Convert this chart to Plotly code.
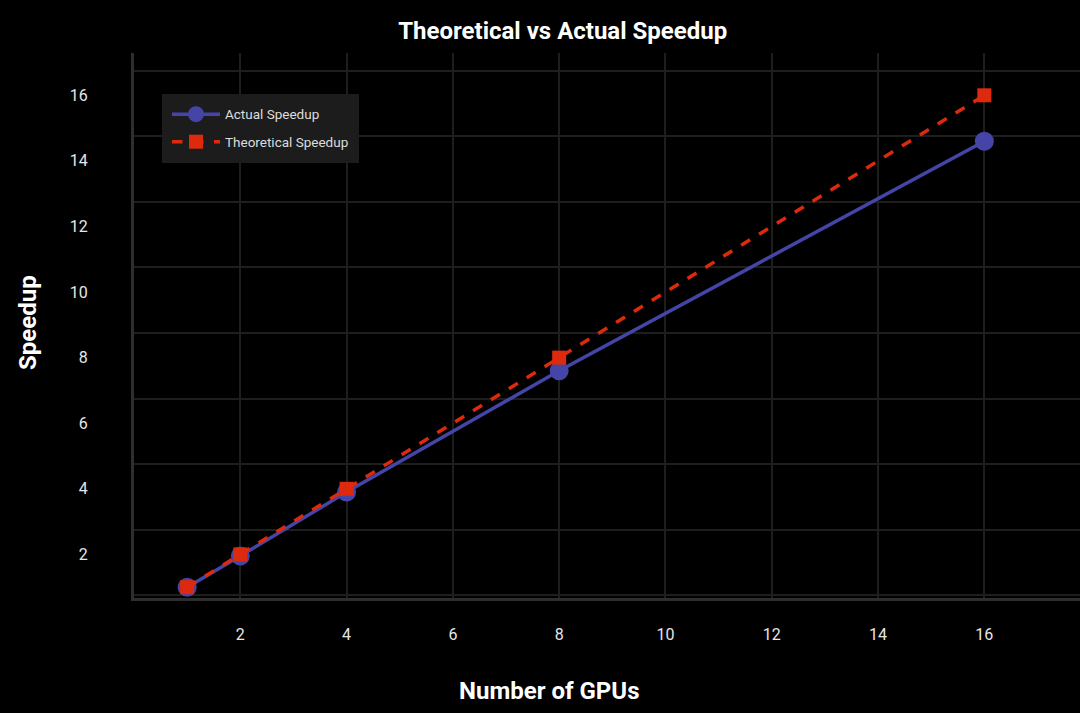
import plotly.graph_objects as go

gpus = [1, 2, 4, 8, 16]
actual_speedup = [1.0, 1.95, 3.9, 7.6, 14.6]
theoretical_speedup = [1, 2, 4, 8, 16]
x_ticks = [2, 4, 6, 8, 10, 12, 14, 16]
y_ticks = [2, 4, 6, 8, 10, 12, 14, 16]

BLUE = "#4545a8"
RED = "#dd2a0c"
GRID = "#1e1e1e"
AXIS = "#2e2e2e"
TXT = "#e6e6e6"
FONT = "Roboto"

fig = go.Figure()
fig.add_trace(go.Scatter(
    x=gpus, y=actual_speedup, mode="lines+markers", name="Actual Speedup",
    line=dict(color=BLUE, width=3.5),
    marker=dict(symbol="circle", size=19, color=BLUE),
    legendgroup="a",
))
fig.add_trace(go.Scatter(
    x=gpus, y=theoretical_speedup, mode="lines+markers", name="Theoretical Speedup",
    line=dict(color=RED, width=3.5, dash="dash"),
    marker=dict(symbol="square", size=14, color=RED),
    legendgroup="t",
))

fig.update_layout(
    width=1080, height=713,
    paper_bgcolor="black", plot_bgcolor="black",
    margin=dict(l=134, r=0, t=53, b=115),
    font=dict(family=FONT, color=TXT, size=15),
    title=dict(text="<b>Theoretical vs Actual Speedup</b>", x=0.521, xanchor="center",
               y=1 - 31 / 713, yanchor="middle", font=dict(size=24, color="white", family=FONT)),
    showlegend=True,
    legend=dict(x=0.0296, y=0.925, xanchor="left", yanchor="top",
                bgcolor="#1c1c1c", bordercolor="#1c1c1c", borderwidth=5,
                font=dict(size=13.5, color="#dddddd", family=FONT),
                itemwidth=48, tracegroupgap=7, traceorder="grouped"),
    annotations=[
        dict(text="<b>Number of GPUs</b>", xref="paper", yref="paper",
             x=(549 - 134) / 946, y=-(691 - 598) / 545, xanchor="center", yanchor="middle",
             showarrow=False, font=dict(size=24, color="white", family=FONT)),
        dict(text="<b>Speedup</b>", xref="paper", yref="paper",
             x=-(134 - 28) / 946, y=(598 - 323) / 545, xanchor="center", yanchor="middle",
             textangle=-90, showarrow=False, font=dict(size=24, color="white", family=FONT)),
    ],
)

fig.update_xaxes(
    range=[0, 17.8], tickvals=x_ticks, ticktext=[str(v) for v in x_ticks],
    showgrid=True, gridcolor=GRID, gridwidth=2,
    showline=True, linecolor=AXIS, linewidth=3,
    zeroline=False, ticks="", ticklabelstandoff=20,
    tickfont=dict(size=16, color=TXT),
)
fig.update_yaxes(
    range=[0.67, 17.29], tickvals=y_ticks, ticktext=[str(v) for v in y_ticks],
    showgrid=False,
    minor=dict(tick0=0.75, dtick=2, showgrid=True, gridcolor=GRID, gridwidth=2, ticks=""),
    showline=True, linecolor=AXIS, linewidth=3,
    zeroline=False, ticks="", ticklabelstandoff=40,
    tickfont=dict(size=16, color=TXT),
)

fig.write_html(
    "out.html",
    config={"displayModeBar": False},
    post_script="document.body.style.margin='0';document.body.style.background='black';",
)
